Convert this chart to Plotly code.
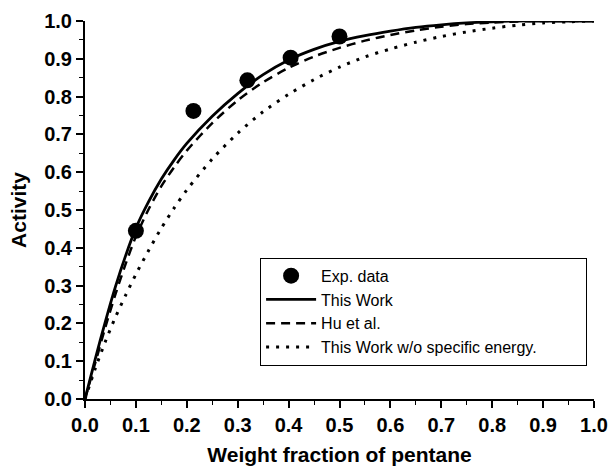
import plotly.graph_objects as go

# Experimental data
exp_x = [0.1, 0.213, 0.319, 0.404, 0.5]
exp_y = [0.445, 0.762, 0.843, 0.903, 0.959]

# Model curves
curve_x = [0, 0.02, 0.04, 0.06, 0.08, 0.1, 0.125, 0.15, 0.175, 0.2, 0.25, 0.3, 0.35,
           0.4, 0.45, 0.5, 0.55, 0.6, 0.65, 0.7, 0.75, 0.8, 0.85, 0.9, 0.95, 1.0]
this_work = [0, 0.105, 0.205, 0.298, 0.38, 0.452, 0.522, 0.582, 0.632, 0.676, 0.748, 0.808,
             0.858, 0.897, 0.925, 0.946, 0.961, 0.973, 0.983, 0.99, 0.995, 0.998, 1.0, 1.0, 1.0, 1.0]
hu_et_al = [0, 0.095, 0.19, 0.278, 0.358, 0.43, 0.502, 0.563, 0.613, 0.657, 0.73, 0.79, 0.838,
            0.876, 0.906, 0.929, 0.948, 0.963, 0.975, 0.985, 0.992, 0.996, 0.999, 1.0, 1.0, 1.0]
wo_specific = [0, 0.08, 0.152, 0.217, 0.275, 0.33, 0.393, 0.452, 0.505, 0.553, 0.635, 0.703,
               0.76, 0.806, 0.845, 0.878, 0.905, 0.926, 0.944, 0.959, 0.971, 0.981, 0.989,
               0.995, 0.998, 1.0]

x_ticks = [0.0, 0.1, 0.2, 0.3, 0.4, 0.5, 0.6, 0.7, 0.8, 0.9, 1.0]
y_ticks = [0.0, 0.1, 0.2, 0.3, 0.4, 0.5, 0.6, 0.7, 0.8, 0.9, 1.0]

FONT = "Liberation Sans, Arial, sans-serif"
PAD = "&nbsp;" * 10

fig = go.Figure()
fig.add_trace(go.Scatter(x=exp_x, y=exp_y, mode="markers", name="Exp. data",
                         marker=dict(color="black", size=16), cliponaxis=False))
fig.add_trace(go.Scatter(x=curve_x, y=this_work, mode="lines", name="This Work",
                         line=dict(color="black", width=2.8, shape="spline", smoothing=0.8),
                         cliponaxis=False))
fig.add_trace(go.Scatter(x=curve_x, y=hu_et_al, mode="lines", name="Hu et al.",
                         line=dict(color="black", width=2.5, dash="9px,6px", shape="spline",
                                   smoothing=0.8),
                         cliponaxis=False))
fig.add_trace(go.Scatter(x=curve_x, y=wo_specific, mode="lines",
                         name="This Work w/o specific energy." + PAD,
                         line=dict(color="black", width=3, dash="3px,7px", shape="spline",
                                   smoothing=0.8),
                         cliponaxis=False))

axis_font = dict(family=FONT, size=20, color="black", weight="bold")
title_font = dict(family=FONT, size=21, color="black", weight="bold")

fig.update_layout(
    width=609, height=466,
    margin=dict(l=85, r=15, t=21, b=67, autoexpand=False),
    paper_bgcolor="white", plot_bgcolor="white",
    showlegend=True,
    legend=dict(x=0.344, y=0.088, xanchor="left", yanchor="bottom",
                bordercolor="black", borderwidth=1, bgcolor="white",
                font=dict(family=FONT, size=16, color="black"),
                itemwidth=50, tracegroupgap=0),
    xaxis=dict(range=[0, 1], tickvals=x_ticks, ticktext=[f"{v:.1f}" for v in x_ticks],
               showgrid=False, zeroline=False, showline=True, linecolor="black", linewidth=2,
               ticks="outside", ticklen=7, tickwidth=1.5, tickcolor="black",
               minor=dict(ticks="outside", ticklen=4, tickwidth=1.2, tickcolor="black", dtick=0.05),
               tickfont=axis_font, automargin=False,
               title=dict(text="Weight fraction of pentane", font=title_font, standoff=14)),
    yaxis=dict(range=[0, 1], tickvals=y_ticks, ticktext=[f"{v:.1f}" for v in y_ticks],
               showgrid=False, zeroline=False, showline=True, linecolor="black", linewidth=2,
               ticks="outside", ticklen=7, tickwidth=1.5, tickcolor="black",
               minor=dict(ticks="outside", ticklen=4, tickwidth=1.2, tickcolor="black", dtick=0.05),
               tickfont=axis_font, automargin=False,
               title=dict(text="Activity", font=title_font, standoff=12)),
)

fig.write_html("out.html")
